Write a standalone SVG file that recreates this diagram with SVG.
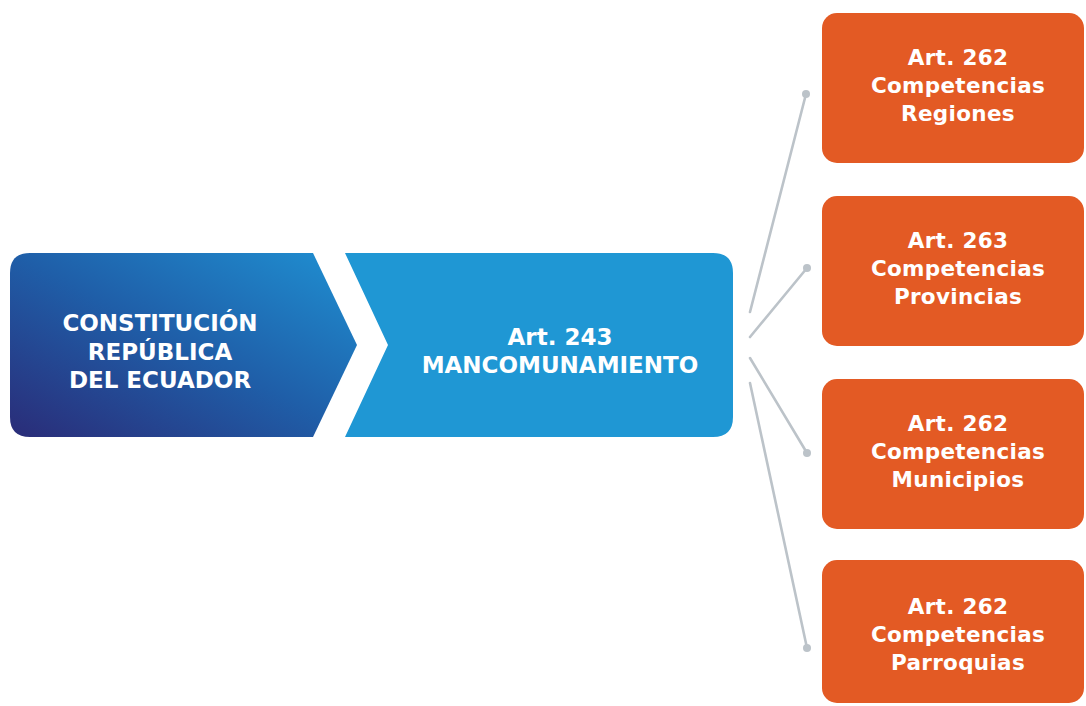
<svg xmlns="http://www.w3.org/2000/svg" width="1086" height="706" viewBox="0 0 1086 706">
<style>
.t{font-family:"DejaVu Sans","Liberation Sans",sans-serif;font-weight:bold;fill:#ffffff;text-anchor:middle}
.big{font-size:23px}
.sm{font-size:21.5px;letter-spacing:0.3px}
.org{fill:#E35A24}
.conn{stroke:#BCC3C9;stroke-width:2.6;fill:none;stroke-linecap:round}
.dot{fill:#BCC3C9}
</style>
<defs>
<linearGradient id="gl" x1="0" y1="1" x2="1" y2="0">
<stop offset="0" stop-color="#2A2C78"/>
<stop offset="0.5" stop-color="#1F5EA8"/>
<stop offset="1" stop-color="#1F90D2"/>
</linearGradient>
</defs>
<rect width="1086" height="706" fill="#ffffff"/>
<g id="constitucion">
<path d="M30,253 H313 L357,345 L313,437 H30 Q10,437 10,417 V273 Q10,253 30,253 Z" fill="url(#gl)"/>
<text class="t big" x="160" y="331">CONSTITUCIÓN</text>
<text class="t big" x="160" y="360">REPÚBLICA</text>
<text class="t big" x="160" y="388">DEL ECUADOR</text>
</g>
<g id="mancomunamiento">
<path d="M345,253 H713 Q733,253 733,273 V417 Q733,437 713,437 H345 L388,345 Z" fill="#1F97D4"/>
<text class="t big" x="560" y="345">Art. 243</text>
<text class="t big" x="560" y="373">MANCOMUNAMIENTO</text>
</g>
<g id="connectors">
<line class="conn" x1="750" y1="312" x2="806" y2="94"/>
<circle class="dot" cx="806" cy="94" r="4"/>
<line class="conn" x1="750" y1="337" x2="807" y2="268"/>
<circle class="dot" cx="807" cy="268" r="4"/>
<line class="conn" x1="750" y1="358" x2="807" y2="453"/>
<circle class="dot" cx="807" cy="453" r="4"/>
<line class="conn" x1="750" y1="383" x2="807" y2="648"/>
<circle class="dot" cx="807" cy="648" r="4"/>
</g>
<g id="regiones">
<rect class="org" x="822" y="13" width="262" height="150" rx="15"/>
<text class="t sm" x="958" y="65">Art. 262</text>
<text class="t sm" x="958" y="93">Competencias</text>
<text class="t sm" x="958" y="121">Regiones</text>
</g>
<g id="provincias">
<rect class="org" x="822" y="196" width="262" height="150" rx="15"/>
<text class="t sm" x="958" y="248">Art. 263</text>
<text class="t sm" x="958" y="276">Competencias</text>
<text class="t sm" x="958" y="304">Provincias</text>
</g>
<g id="municipios">
<rect class="org" x="822" y="379" width="262" height="150" rx="15"/>
<text class="t sm" x="958" y="431">Art. 262</text>
<text class="t sm" x="958" y="459">Competencias</text>
<text class="t sm" x="958" y="487">Municipios</text>
</g>
<g id="parroquias">
<rect class="org" x="822" y="560" width="262" height="143" rx="15"/>
<text class="t sm" x="958" y="614">Art. 262</text>
<text class="t sm" x="958" y="642">Competencias</text>
<text class="t sm" x="958" y="670">Parroquias</text>
</g>
</svg>
